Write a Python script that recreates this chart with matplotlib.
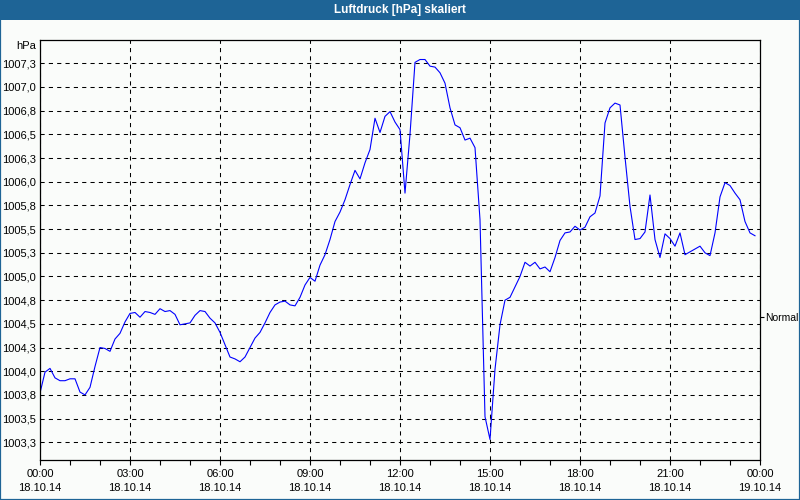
import numpy as np
import pandas as pd
import matplotlib
matplotlib.use('Agg')
import matplotlib.pyplot as plt
import matplotlib.dates as mdates
from matplotlib.patches import Rectangle

# Luftdruck in hPa, one value every 10 minutes, grouped per hour (18.10.14)
pressure_by_hour = [
    [1003.77, 1003.99, 1004.03, 1003.93, 1003.90, 1003.90],  # 00
    [1003.92, 1003.92, 1003.78, 1003.75, 1003.83, 1004.05],  # 01
    [1004.25, 1004.24, 1004.21, 1004.34, 1004.40, 1004.52],  # 02
    [1004.61, 1004.62, 1004.57, 1004.63, 1004.62, 1004.60],  # 03
    [1004.66, 1004.63, 1004.64, 1004.60, 1004.49, 1004.50],  # 04
    [1004.51, 1004.59, 1004.64, 1004.63, 1004.56, 1004.51],  # 05
    [1004.41, 1004.28, 1004.15, 1004.13, 1004.10, 1004.15],  # 06
    [1004.25, 1004.35, 1004.41, 1004.51, 1004.62, 1004.70],  # 07
    [1004.73, 1004.74, 1004.70, 1004.69, 1004.78, 1004.91],  # 08
    [1004.99, 1004.95, 1005.12, 1005.23, 1005.39, 1005.58],  # 09
    [1005.68, 1005.81, 1005.97, 1006.12, 1006.03, 1006.20],  # 10
    [1006.34, 1006.67, 1006.52, 1006.69, 1006.74, 1006.63],  # 11
    [1006.55, 1005.88, 1006.50, 1007.26, 1007.29, 1007.29],  # 12
    [1007.22, 1007.21, 1007.15, 1007.04, 1006.78, 1006.60],  # 13
    [1006.57, 1006.44, 1006.46, 1006.36, 1005.60, 1003.52],  # 14
    [1003.28, 1004.02, 1004.49, 1004.75, 1004.78, 1004.89],  # 15
    [1005.00, 1005.15, 1005.11, 1005.15, 1005.08, 1005.10],  # 16
    [1005.05, 1005.20, 1005.38, 1005.46, 1005.47, 1005.53],  # 17
    [1005.49, 1005.52, 1005.63, 1005.67, 1005.85, 1006.62],  # 18
    [1006.78, 1006.83, 1006.81, 1006.26, 1005.74, 1005.39],  # 19
    [1005.40, 1005.47, 1005.86, 1005.39, 1005.20, 1005.45],  # 20
    [1005.40, 1005.32, 1005.46, 1005.23, 1005.26, 1005.29],  # 21
    [1005.32, 1005.25, 1005.22, 1005.46, 1005.84, 1005.99],  # 22
    [1005.96, 1005.88, 1005.81, 1005.58, 1005.46, 1005.43],  # 23
]

ytick_values = [1003.25, 1003.5, 1003.75, 1004.0, 1004.25, 1004.5, 1004.75,
                1005.0, 1005.25, 1005.5, 1005.75, 1006.0, 1006.25, 1006.5,
                1006.75, 1007.0, 1007.25]
ytick_labels = ['1003,3', '1003,5', '1003,8', '1004,0', '1004,3', '1004,5', '1004,8',
                '1005,0', '1005,3', '1005,5', '1005,8', '1006,0', '1006,3', '1006,5',
                '1006,8', '1007,0', '1007,3']
normal_value = 1004.57
title = 'Luftdruck [hPa] skaliert'

values = np.array(pressure_by_hour).ravel()
times = pd.date_range('2014-10-18 00:00', periods=len(values), freq='10min')

plt.rcParams['font.family'] = ['Liberation Sans', 'DejaVu Sans']

bg = '#fafcfa'
bar_blue = '#1e6496'

fig = plt.figure(figsize=(8, 5), dpi=100, facecolor=bg)
ax = fig.add_axes([0.05, 0.08, 0.90, 0.84], facecolor=bg)

ax.plot(times, values, color='#0000ff', linewidth=0.8)

ax.set_xlim(pd.Timestamp('2014-10-18 00:00'), pd.Timestamp('2014-10-19 00:00'))
ax.set_ylim(1003.063, 1007.496)

ax.xaxis.set_major_locator(mdates.HourLocator(interval=3))
ax.xaxis.set_minor_locator(mdates.HourLocator(interval=1))
ax.xaxis.set_major_formatter(mdates.DateFormatter('%H:%M\n%d.%m.%y'))
ax.set_yticks(ytick_values)
ax.set_yticklabels(ytick_labels)

ax.tick_params(axis='x', which='both', length=3.5, width=0.8, direction='out',
               labelsize=8, pad=3)
ax.tick_params(axis='y', length=0, labelsize=8, pad=3)
for lbl in ax.get_xticklabels():
    lbl.set_linespacing(1.45)

ax.grid(True, which='major', color='black', linewidth=0.75, linestyle=(0, (4, 4)))
for s in ax.spines.values():
    s.set_color('black')
    s.set_linewidth(0.9)

# Normal marker on the right side
sec = ax.secondary_yaxis('right')
sec.set_yticks([normal_value])
sec.set_yticklabels(['Normal'])
sec.tick_params(length=3, width=0.8, labelsize=7.5, pad=0.5)
sec.spines['right'].set_visible(False)

# unit label above the y axis
fig.text(36 / 800, 1 - 46 / 500, 'hPa', ha='right', va='center', fontsize=8)

# title bar and frame
fig.patches.append(Rectangle((0, 1 - 20 / 500), 1, 20 / 500, transform=fig.transFigure,
                             facecolor=bar_blue, edgecolor='none', zorder=0))
fig.patches.append(Rectangle((0, 0), 1, 1, transform=fig.transFigure,
                             facecolor='none', edgecolor=bar_blue, linewidth=1.6, zorder=1))
fig.text(0.5, 1 - 10 / 500, title, ha='center', va='center', color='white',
         fontsize=8.5, fontweight='bold')

fig.savefig('out.png', dpi=100, facecolor=bg)
